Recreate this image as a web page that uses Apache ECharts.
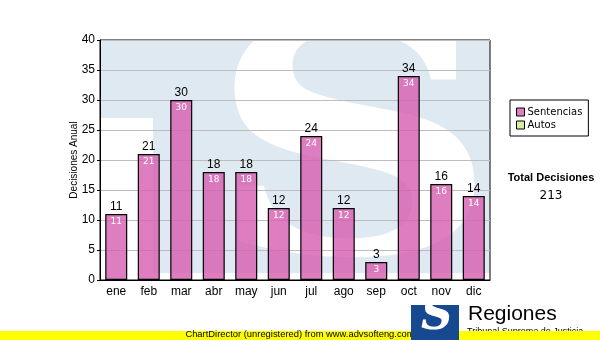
<!DOCTYPE html>
<html>
<head>
<meta charset="utf-8">
<script src="https://cdn.jsdelivr.net/npm/echarts@6/dist/echarts.min.js"></script>
<style>
html, body { margin: 0; padding: 0; background: #fff; }
#chart { width: 600px; height: 340px; }
</style>
</head>
<body>
<div id="chart"></div>
<script>
// datos del grafico
const months = ['ene', 'feb', 'mar', 'abr', 'may', 'jun', 'jul', 'ago', 'sep', 'oct', 'nov', 'dic'];
const sentencias = [11, 21, 30, 18, 18, 12, 24, 12, 3, 34, 16, 14];
const autos = [];
const yMin = 0, yMax = 40, yStep = 5;

const total = sentencias.reduce((a, b) => a + b, 0);
const wm = '#dfe9f2';

let chart = echarts.init(document.getElementById('chart'));
let option = {
    animation: false,
    textStyle: { fontFamily: 'Liberation Sans' },
    grid: {
        left: 100, right: 110, top: 40, bottom: 60,
        show: true, borderColor: '#000', borderWidth: 1,
        backgroundColor: 'transparent', containLabel: false
    },
    legend: {
        orient: 'vertical',
        left: 510, top: 100,
        padding: [7, 6, 6, 6],
        itemGap: 3,
        itemWidth: 8, itemHeight: 8,
        borderColor: '#000', borderWidth: 1,
        icon: 'rect',
        data: ['Sentencias', 'Autos'],
        textStyle: { fontFamily: 'DejaVu Sans', fontSize: 10, color: '#000', padding: [0, 0, 0, -2] },
        itemStyle: { borderColor: '#000', borderWidth: 1 }
    },
    xAxis: {
        type: 'category',
        data: months,
        axisLine: { lineStyle: { color: '#000' } },
        axisTick: { alignWithLabel: true, length: 3, lineStyle: { color: '#000' } },
        axisLabel: { color: '#000', fontSize: 12, margin: 6 }
    },
    yAxis: {
        type: 'value',
        min: yMin, max: yMax, interval: yStep,
        name: 'Decisiones Anual',
        nameLocation: 'middle',
        nameRotate: 90,
        nameGap: 21,
        nameMoveOverlap: false,
        nameTextStyle: { color: '#000', fontSize: 10, fontFamily: 'Liberation Sans' },
        axisLine: { show: true, lineStyle: { color: '#000' } },
        axisTick: { show: true, length: 3, lineStyle: { color: '#000' } },
        axisLabel: { color: '#000', fontSize: 12, margin: 5 },
        splitLine: { lineStyle: { color: '#bdbdbd' } }
    },
    series: [
        {
            name: 'Sentencias',
            type: 'bar',
            data: sentencias,
            barWidth: 22,
            barGap: '-100%',
            itemStyle: { color: 'rgba(214,92,176,0.8)', borderColor: '#000', borderWidth: 1.2 },
            label: { show: true, position: 'top', distance: 1, color: '#000', fontSize: 12 },
            z: 3
        },
        {
            name: 'Autos',
            type: 'bar',
            data: autos,
            barWidth: 22,
            barGap: '-100%',
            itemStyle: { color: '#d8eea0', borderColor: '#000' }
        },
        {
            name: 'etiquetas',
            type: 'bar',
            data: sentencias,
            barWidth: 22,
            barGap: '-100%',
            silent: true,
            itemStyle: { color: 'rgba(0,0,0,0)' },
            label: { show: true, position: 'insideTop', distance: 3, color: '#fff', fontSize: 9, fontFamily: 'DejaVu Sans' },
            z: 4
        }
    ],
    graphic: [
        // marca de agua
        { type: 'rect', z: -10, shape: { x: 100, y: 40, width: 390, height: 240 }, style: { fill: wm } },
        { type: 'rect', z: -9, shape: { x: 100, y: 118, width: 53, height: 162 }, style: { fill: '#fff' } },
        { type: 'rect', z: -9, shape: { x: 153, y: 273, width: 337, height: 7 }, style: { fill: '#fff' } },
        {
            type: 'text', z: -8, x: 208, y: 8, scaleX: 1.25,
            style: { text: 'S', font: 'bold 322px "DejaVu Serif"', fill: '#fff' }
        },
        // total
        {
            type: 'text', x: 551, y: 172,
            style: { text: 'Total Decisiones', font: 'bold 11px "Liberation Sans"', fill: '#000', align: 'center' }
        },
        {
            type: 'text', x: 551, y: 190,
            style: { text: String(total), font: '12px "DejaVu Sans"', fill: '#000', align: 'center' }
        },
        // pie
        {
            type: 'text', x: 467, y: 327,
            style: { text: 'Tribunal Supremo de Justicia', font: '9px "Liberation Sans"', fill: '#000' }
        },
        { type: 'rect', shape: { x: 0, y: 331, width: 600, height: 9 }, style: { fill: '#ffff00' } },
        {
            type: 'text', x: 300, y: 330,
            style: { text: 'ChartDirector (unregistered) from www.advsofteng.com', font: '9.4px "Liberation Sans"', fill: '#000', align: 'center' }
        },
        { type: 'rect', shape: { x: 411, y: 305, width: 48, height: 35 }, style: { fill: '#16498f' } },
        {
            type: 'text', x: 421, y: 296,
            style: { text: 'S', font: 'bold italic 44px "DejaVu Serif"', fill: '#fff' }
        },
        {
            type: 'text', x: 468, y: 304,
            style: { text: 'Regiones', font: '21px "Liberation Sans"', fill: '#000' }
        }
    ]
};
chart.setOption(option);
</script>
</body>
</html>
